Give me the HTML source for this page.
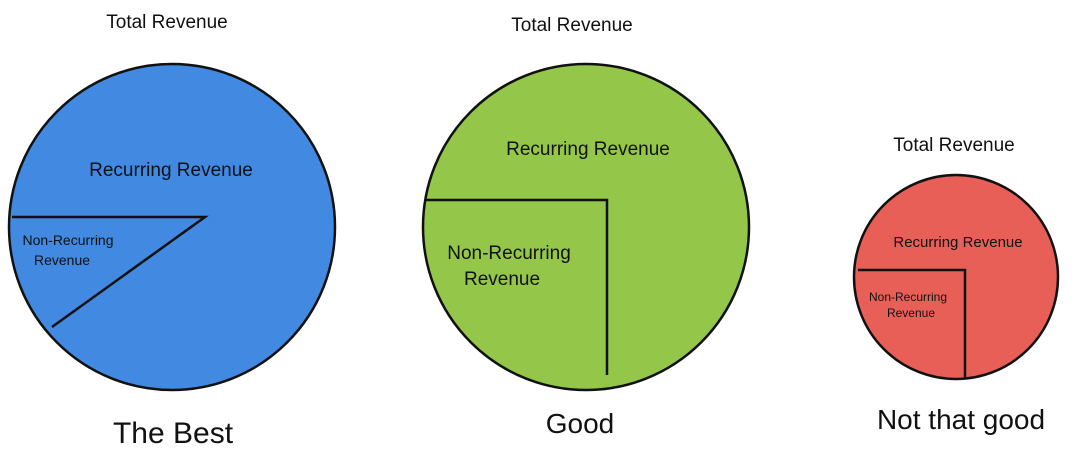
<!DOCTYPE html>
<html><head><meta charset="utf-8"><style>
body{margin:0;background:#fff;width:1080px;height:463px;overflow:hidden}
text{font-family:"Liberation Sans",sans-serif;fill:#111}
</style></head><body>
<svg width="1080" height="463" xmlns="http://www.w3.org/2000/svg">
<g stroke="#111" stroke-width="2.5">
<circle cx="172" cy="227" r="163" fill="#4189e1"/>
<circle cx="586" cy="227" r="163" fill="#94c649"/>
<circle cx="956" cy="277" r="102" fill="#e85f57"/>
<polyline points="12,217 205,217 52,327" fill="none"/>
<polyline points="425,200 607,200 607,375" fill="none"/>
<polyline points="858,270 965,270 965,378" fill="none"/>
</g>
<text x="167" y="28" font-size="19" text-anchor="middle">Total Revenue</text>
<text x="572" y="31" font-size="19" text-anchor="middle">Total Revenue</text>
<text x="954" y="151" font-size="19" text-anchor="middle">Total Revenue</text>
<text x="171" y="176" font-size="19" text-anchor="middle">Recurring Revenue</text>
<text x="588" y="155" font-size="19" text-anchor="middle">Recurring Revenue</text>
<text x="958" y="247" font-size="15" text-anchor="middle">Recurring Revenue</text>
<text x="68" y="245" font-size="14" text-anchor="middle">Non-Recurring</text>
<text x="62" y="265" font-size="14" text-anchor="middle">Revenue</text>
<text x="509" y="259" font-size="19" text-anchor="middle">Non-Recurring</text>
<text x="502" y="285" font-size="19" text-anchor="middle">Revenue</text>
<text x="908" y="301" font-size="12" text-anchor="middle">Non-Recurring</text>
<text x="911" y="317" font-size="12" text-anchor="middle">Revenue</text>
<text x="173" y="443" font-size="30" text-anchor="middle">The Best</text>
<text x="580" y="433" font-size="28" text-anchor="middle">Good</text>
<text x="961" y="429" font-size="28" text-anchor="middle">Not that good</text>
</svg>
</body></html>
